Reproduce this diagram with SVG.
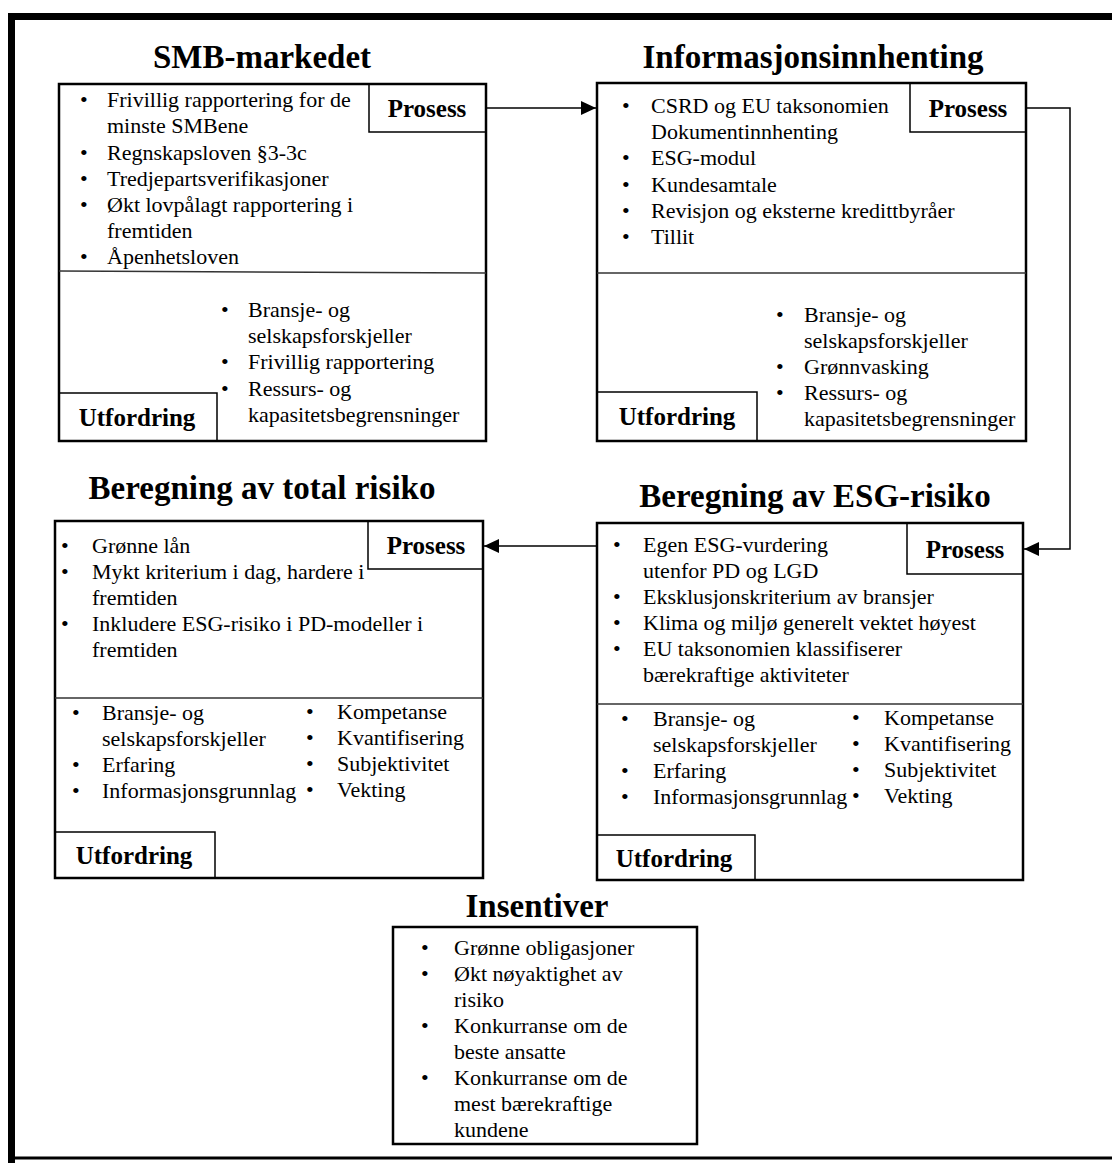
<svg xmlns="http://www.w3.org/2000/svg" width="1112" height="1163" viewBox="0 0 1112 1163">
<style>
.bg{fill:#fff}
.frame{fill:none;stroke:#000;stroke-width:7}
.box{fill:#fff;stroke:#000;stroke-width:2.5}
.sub{fill:none;stroke:#000;stroke-width:1.5}
.div{fill:none;stroke:#333;stroke-width:1.5}
.con{fill:none;stroke:#000;stroke-width:1.5}
text{font-family:"Liberation Serif","Times New Roman",serif;fill:#000}
.t{font-size:22px}
.lbl{font-size:25px;font-weight:bold;text-anchor:middle}
.ttl{font-size:33px;font-weight:bold;text-anchor:middle}
</style>
<defs>
<marker id="arr" markerUnits="userSpaceOnUse" markerWidth="16" markerHeight="14" refX="15" refY="7" orient="auto">
<path d="M0,0 L15,7 L0,14 Z" fill="#000"/>
</marker>
</defs>
<rect class="bg" x="0" y="0" width="1112" height="1163"/>
<path class="frame" d="M11.5,1163 L11.5,16.5 L1112,16.5"/>
<line x1="8" y1="1158" x2="1112" y2="1158" stroke="#000" stroke-width="3"/>

<g id="connectors">
<line class="con" x1="486" y1="108" x2="596" y2="108" marker-end="url(#arr)"/>
<polyline class="con" points="1026,108 1070,108 1070,549 1024,549" marker-end="url(#arr)"/>
<line class="con" x1="597" y1="546" x2="484" y2="546" marker-end="url(#arr)"/>
</g>

<g id="smb">
<text class="ttl" x="262" y="68">SMB-markedet</text>
<rect class="box" x="59" y="84" width="427" height="357"/>
<path class="sub" d="M369,84 L369,132 L486,132"/>
<text class="lbl" x="427" y="117">Prosess</text>
<line class="div" x1="59" y1="271" x2="486" y2="273"/>
<path class="sub" d="M59,393 L217,393 L217,441"/>
<text class="lbl" x="137" y="426">Utfordring</text>
<g class="t">
<text x="80" y="107">•</text><text x="107" y="107">Frivillig rapportering for de</text>
<text x="107" y="133">minste SMBene</text>
<text x="80" y="160">•</text><text x="107" y="160">Regnskapsloven §3-3c</text>
<text x="80" y="186">•</text><text x="107" y="186">Tredjepartsverifikasjoner</text>
<text x="80" y="212">•</text><text x="107" y="212">Økt lovpålagt rapportering i</text>
<text x="107" y="238">fremtiden</text>
<text x="80" y="264">•</text><text x="107" y="264">Åpenhetsloven</text>
<text x="221" y="317">•</text><text x="248" y="317">Bransje- og</text>
<text x="248" y="343">selskapsforskjeller</text>
<text x="221" y="369">•</text><text x="248" y="369">Frivillig rapportering</text>
<text x="221" y="396">•</text><text x="248" y="396">Ressurs- og</text>
<text x="248" y="422">kapasitetsbegrensninger</text>
</g>
</g>

<g id="info">
<text class="ttl" x="813" y="68">Informasjonsinnhenting</text>
<rect class="box" x="597" y="83" width="429" height="358"/>
<path class="sub" d="M910,83 L910,132 L1026,132"/>
<text class="lbl" x="968" y="117">Prosess</text>
<line class="div" x1="597" y1="273" x2="1026" y2="273"/>
<path class="sub" d="M597,392 L757,392 L757,441"/>
<text class="lbl" x="677" y="425">Utfordring</text>
<g class="t">
<text x="622" y="113">•</text><text x="651" y="113">CSRD og EU taksonomien</text>
<text x="651" y="139">Dokumentinnhenting</text>
<text x="622" y="165">•</text><text x="651" y="165">ESG-modul</text>
<text x="622" y="192">•</text><text x="651" y="192">Kundesamtale</text>
<text x="622" y="218">•</text><text x="651" y="218">Revisjon og eksterne kredittbyråer</text>
<text x="622" y="244">•</text><text x="651" y="244">Tillit</text>
<text x="776" y="322">•</text><text x="804" y="322">Bransje- og</text>
<text x="804" y="348">selskapsforskjeller</text>
<text x="776" y="374">•</text><text x="804" y="374">Grønnvasking</text>
<text x="776" y="400">•</text><text x="804" y="400">Ressurs- og</text>
<text x="804" y="426">kapasitetsbegrensninger</text>
</g>
</g>

<g id="total">
<text class="ttl" x="262" y="499">Beregning av total risiko</text>
<rect class="box" x="55" y="521" width="428" height="357"/>
<path class="sub" d="M368,521 L368,569 L483,569"/>
<text class="lbl" x="426" y="554">Prosess</text>
<line class="div" x1="55" y1="698" x2="483" y2="698"/>
<path class="sub" d="M55,832 L215,832 L215,878"/>
<text class="lbl" x="134" y="864">Utfordring</text>
<g class="t">
<text x="61" y="553">•</text><text x="92" y="553">Grønne lån</text>
<text x="61" y="579">•</text><text x="92" y="579">Mykt kriterium i dag, hardere i</text>
<text x="92" y="605">fremtiden</text>
<text x="61" y="631">•</text><text x="92" y="631">Inkludere ESG-risiko i PD-modeller i</text>
<text x="92" y="657">fremtiden</text>
<text x="72" y="720">•</text><text x="102" y="720">Bransje- og</text>
<text x="102" y="746">selskapsforskjeller</text>
<text x="72" y="772">•</text><text x="102" y="772">Erfaring</text>
<text x="72" y="798">•</text><text x="102" y="798">Informasjonsgrunnlag</text>
<text x="306" y="719">•</text><text x="337" y="719">Kompetanse</text>
<text x="306" y="745">•</text><text x="337" y="745">Kvantifisering</text>
<text x="306" y="771">•</text><text x="337" y="771">Subjektivitet</text>
<text x="306" y="797">•</text><text x="337" y="797">Vekting</text>
</g>
</g>

<g id="esg">
<text class="ttl" x="815" y="507">Beregning av ESG-risiko</text>
<rect class="box" x="597" y="523" width="426" height="357"/>
<path class="sub" d="M907,523 L907,574 L1023,574"/>
<text class="lbl" x="965" y="558">Prosess</text>
<line class="div" x1="597" y1="704" x2="1023" y2="704"/>
<path class="sub" d="M597,835 L755,835 L755,880"/>
<text class="lbl" x="674" y="867">Utfordring</text>
<g class="t">
<text x="613" y="552">•</text><text x="643" y="552">Egen ESG-vurdering</text>
<text x="643" y="578">utenfor PD og LGD</text>
<text x="613" y="604">•</text><text x="643" y="604">Eksklusjonskriterium av bransjer</text>
<text x="613" y="630">•</text><text x="643" y="630">Klima og miljø generelt vektet høyest</text>
<text x="613" y="656">•</text><text x="643" y="656">EU taksonomien klassifiserer</text>
<text x="643" y="682">bærekraftige aktiviteter</text>
<text x="621" y="726">•</text><text x="653" y="726">Bransje- og</text>
<text x="653" y="752">selskapsforskjeller</text>
<text x="621" y="778">•</text><text x="653" y="778">Erfaring</text>
<text x="621" y="804">•</text><text x="653" y="804">Informasjonsgrunnlag</text>
<text x="852" y="725">•</text><text x="884" y="725">Kompetanse</text>
<text x="852" y="751">•</text><text x="884" y="751">Kvantifisering</text>
<text x="852" y="777">•</text><text x="884" y="777">Subjektivitet</text>
<text x="852" y="803">•</text><text x="884" y="803">Vekting</text>
</g>
</g>

<g id="insentiver">
<text class="ttl" x="537" y="917">Insentiver</text>
<rect class="box" x="393" y="927" width="304" height="217"/>
<g class="t">
<text x="421" y="955">•</text><text x="454" y="955">Grønne obligasjoner</text>
<text x="421" y="981">•</text><text x="454" y="981">Økt nøyaktighet av</text>
<text x="454" y="1007">risiko</text>
<text x="421" y="1033">•</text><text x="454" y="1033">Konkurranse om de</text>
<text x="454" y="1059">beste ansatte</text>
<text x="421" y="1085">•</text><text x="454" y="1085">Konkurranse om de</text>
<text x="454" y="1111">mest bærekraftige</text>
<text x="454" y="1137">kundene</text>
</g>
</g>
</svg>
